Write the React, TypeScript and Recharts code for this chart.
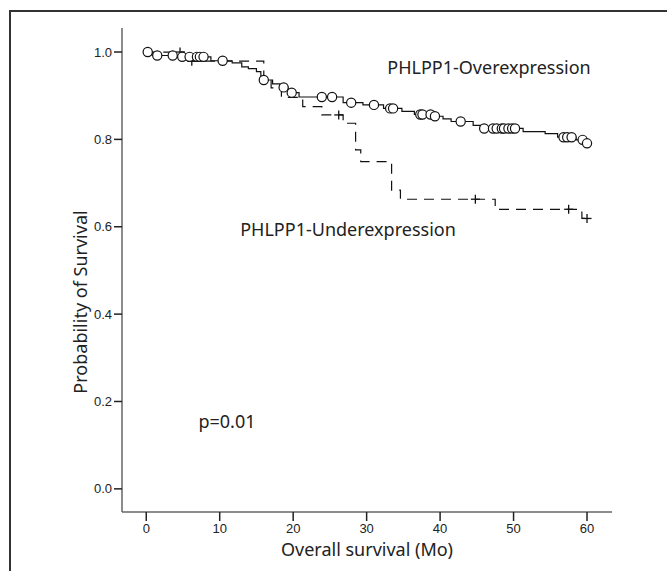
import { ComposedChart, Line, Scatter, XAxis, YAxis } from 'recharts'

// survival step points (months, probability)
const overStepT = [0, 0.8, 4.2, 8.8, 11.7, 13.0, 13.9, 15.0, 15.6, 15.9, 17.2, 18.2, 19.3, 20.8, 26.8, 29.5, 32.3, 34.8, 36.5, 39.0, 40.4, 41.5, 44.5, 45.5, 51.3, 54.3, 56.0, 58.5, 59.7, 60.0]
const overStepS = [1.0, 0.992, 0.989, 0.98, 0.975, 0.966, 0.962, 0.955, 0.945, 0.936, 0.927, 0.919, 0.907, 0.897, 0.884, 0.879, 0.871, 0.864, 0.857, 0.853, 0.847, 0.841, 0.832, 0.825, 0.818, 0.813, 0.805, 0.799, 0.791, 0.791]

const underStepT = [0, 5.2, 16.0, 17.0, 18.4, 21.3, 23.9, 26.8, 28.5, 29.2, 33.4, 34.6, 47.5, 59.3, 60.0]
const underStepS = [1.0, 0.979, 0.94, 0.918, 0.896, 0.875, 0.856, 0.837, 0.776, 0.749, 0.684, 0.663, 0.64, 0.619, 0.619]

// censored cases
const overCensT = [0.2, 1.5, 3.6, 4.9, 5.9, 6.9, 7.3, 7.8, 10.4, 16.0, 18.7, 19.8, 23.9, 25.3, 27.9, 31.0, 33.2, 33.6, 37.3, 37.6, 38.7, 39.3, 42.8, 46.0, 47.2, 47.7, 48.4, 48.7, 49.3, 49.8, 50.2, 56.8, 57.3, 57.9, 59.4, 60.0]
const overCensS = [1.0, 0.992, 0.992, 0.989, 0.989, 0.989, 0.989, 0.989, 0.98, 0.936, 0.919, 0.907, 0.897, 0.897, 0.884, 0.879, 0.871, 0.871, 0.857, 0.857, 0.857, 0.853, 0.841, 0.825, 0.825, 0.825, 0.825, 0.825, 0.825, 0.825, 0.825, 0.805, 0.805, 0.805, 0.799, 0.791]

const underCensT = [4.6, 6.2, 26.2, 44.8, 57.5, 60.0]
const underCensS = [1.0, 0.979, 0.856, 0.663, 0.64, 0.619]

const xTicks = [0, 10, 20, 30, 40, 50, 60]
const yTicks = [0, 0.2, 0.4, 0.6, 0.8, 1.0]

const toRows = (ts: number[], ss: number[]) => ts.map((t, i) => ({ t, s: ss[i] }))

const overLine = toRows(overStepT, overStepS)
const underLine = toRows(underStepT, underStepS)
const overCens = toRows(overCensT, overCensS)
const underCens = toRows(underCensT, underCensS)

const labelFont = '"Noto Sans", "DejaVu Sans", sans-serif'
const tickStyle = { fontSize: 13, fill: '#222', fontFamily: '"Liberation Sans", Arial, sans-serif' }

const OpenCircle = (props: any) => (
  <circle cx={props.cx} cy={props.cy} r={4.6} fill="#fff" stroke="#111" strokeWidth={1.2} />
)

const PlusMark = (props: any) => (
  <g stroke="#111" strokeWidth={1.3}>
    <line x1={props.cx - 4.5} y1={props.cy} x2={props.cx + 4.5} y2={props.cy} />
    <line x1={props.cx} y1={props.cy - 4.5} x2={props.cx} y2={props.cy + 4.5} />
  </g>
)

export default function App() {
  return (
    <div style={{ position: 'fixed', left: 0, top: 0, width: 667, height: 571, overflow: 'hidden', background: '#fff' }}>
      <div style={{ position: 'absolute', left: 9, top: 10, width: 720, height: 620, border: '2px solid #333' }} />
      <div style={{ position: 'absolute', left: 0, top: 0 }}>
        <ComposedChart width={667} height={571} margin={{ top: 28, right: 55, bottom: 19, left: 62 }}>
          <XAxis
            type="number"
            dataKey="t"
            domain={[-3.3, 63.4]}
            ticks={xTicks}
            allowDataOverflow
            tick={tickStyle}
            tickSize={9}
            tickMargin={3}
            height={40}
            axisLine={{ stroke: '#666', strokeWidth: 1.5 }}
            tickLine={{ stroke: '#222', strokeWidth: 1.5 }}
          />
          <YAxis
            type="number"
            domain={[-0.053, 1.055]}
            ticks={yTicks}
            allowDataOverflow
            tickFormatter={(v: number) => v.toFixed(1)}
            tick={tickStyle}
            tickSize={8}
            tickMargin={2}
            width={60}
            axisLine={{ stroke: '#666', strokeWidth: 1.5 }}
            tickLine={{ stroke: '#222', strokeWidth: 1.5 }}
          />
          <Line
            data={underLine}
            dataKey="s"
            type="stepAfter"
            stroke="#111"
            strokeWidth={1.2}
            strokeDasharray="10 7"
            dot={false}
            activeDot={false}
            isAnimationActive={false}
          />
          <Line
            data={overLine}
            dataKey="s"
            type="stepAfter"
            stroke="#111"
            strokeWidth={1.2}
            dot={false}
            activeDot={false}
            isAnimationActive={false}
          />
          <Scatter data={underCens} dataKey="s" shape={PlusMark} isAnimationActive={false} />
          <Scatter data={overCens} dataKey="s" shape={OpenCircle} isAnimationActive={false} />
          <text x={489} y={74} textAnchor="middle" fontSize={18} fontFamily={labelFont} fill="#222">PHLPP1-Overexpression</text>
          <text x={348} y={236} textAnchor="middle" fontSize={18} fontFamily={labelFont} fill="#222">PHLPP1-Underexpression</text>
          <text x={227} y={428} textAnchor="middle" fontSize={18} fontFamily={labelFont} fill="#222">p=0.01</text>
          <text x={367} y={556} textAnchor="middle" fontSize={18} fontFamily={labelFont} fill="#222">Overall survival (Mo)</text>
          <text x={87} y={302} textAnchor="middle" fontSize={18} fontFamily={labelFont} fill="#222" transform="rotate(-90 87 302)">Probability of Survival</text>
        </ComposedChart>
      </div>
    </div>
  )
}
